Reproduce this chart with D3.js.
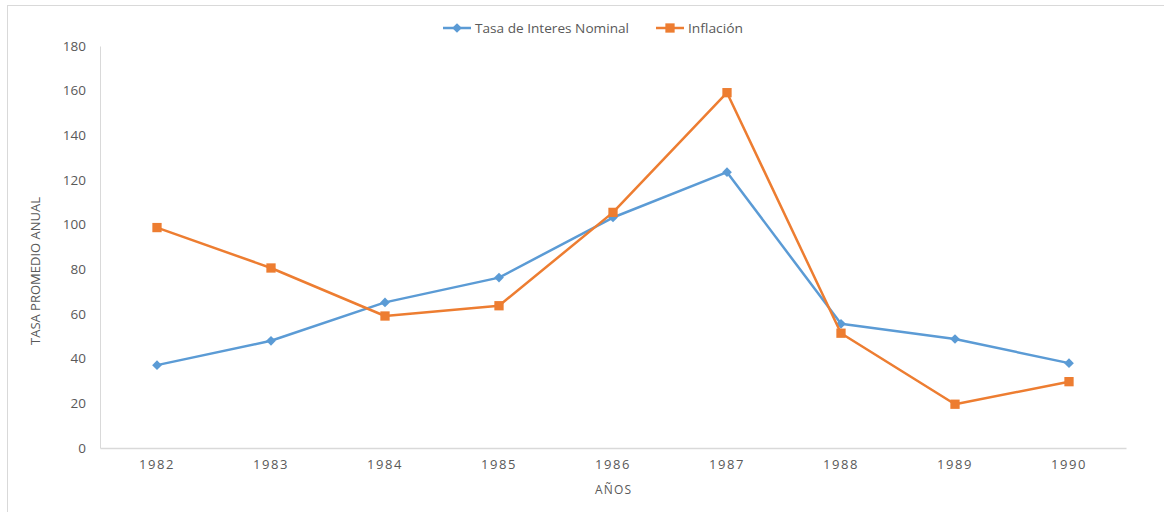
<!DOCTYPE html>
<html>
<head>
<meta charset="utf-8">
<script src="https://cdn.jsdelivr.net/npm/d3@7"></script>
<style>
  body { margin: 0; background: #fff; }
  svg text { font-family: "Open Sans", "Liberation Sans", sans-serif; fill: #595959; }
</style>
</head>
<body>
<svg id="chart"></svg>
<script>
// data
const years = ['1982', '1983', '1984', '1985', '1986', '1987', '1988', '1989', '1990'];
const nominal = [37.1, 48.0, 65.2, 76.3, 103.2, 123.5, 55.6, 48.8, 38.0];
const inflacion = [98.7, 80.6, 59.1, 63.7, 105.5, 159.1, 51.4, 19.6, 29.7];
const yTicks = [0, 20, 40, 60, 80, 100, 120, 140, 160, 180];

const config = {
    width: 1164,
    height: 512,
    margin: {top: 46, right: 38, bottom: 64, left: 100}
};

const svg = d3.select('#chart')
    .attr('width', config.width)
    .attr('height', config.height);

// outer frame (only top and left edges fall inside the view)
svg.append('rect')
    .attr('x', 7.5).attr('y', 5.5)
    .attr('width', 1300).attr('height', 700)
    .attr('fill', 'none')
    .attr('stroke', '#d9d9d9');

const innerW = config.width - config.margin.left - config.margin.right;
const innerH = config.height - config.margin.top - config.margin.bottom;

const chart = svg.append('g')
    .attr('transform', `translate(${config.margin.left},${config.margin.top})`);

const xScale = d3.scaleBand().domain(years).range([0, innerW]);
const yScale = d3.scaleLinear().domain([0, 180]).range([innerH, 0]);

// y axis
const yAxisG = chart.append('g')
    .call(d3.axisLeft(yScale).tickValues(yTicks).tickSize(0).tickPadding(14));
yAxisG.select('.domain').attr('stroke', '#d9d9d9');
yAxisG.selectAll('text').attr('font-size', 13.5).attr('fill', '#595959');

// x axis
const xAxisG = chart.append('g')
    .attr('transform', `translate(0,${innerH})`)
    .call(d3.axisBottom(xScale).tickSize(0).tickPadding(12));
xAxisG.select('.domain').attr('stroke', '#d9d9d9').attr('stroke-width', 1.5);
xAxisG.selectAll('text').attr('font-size', 13).attr('letter-spacing', '1.6px').attr('fill', '#595959');

// axis titles
svg.append('text')
    .attr('x', xScale('1986') + xScale.bandwidth() / 2 + config.margin.left)
    .attr('y', 494)
    .attr('text-anchor', 'middle')
    .attr('font-size', 12)
    .attr('textLength', 36)
    .text('AÑOS');

svg.append('text')
    .attr('transform', 'translate(40,271) rotate(-90)')
    .attr('text-anchor', 'middle')
    .attr('font-size', 12)
    .attr('textLength', 148)
    .attr('lengthAdjust', 'spacingAndGlyphs')
    .text('TASA PROMEDIO ANUAL');

const series = [
    {name: 'Tasa de Interes Nominal', values: nominal, color: '#5b9bd5', marker: 'diamond'},
    {name: 'Inflación', values: inflacion, color: '#ed7d31', marker: 'square'}
];

const xPos = i => xScale(years[i]) + xScale.bandwidth() / 2;

const line = d3.line()
    .x((d, i) => xPos(i))
    .y(d => yScale(d));

const markerPath = (type) => type === 'diamond'
    ? d3.symbol(d3.symbolDiamond2, 60)()
    : d3.symbol(d3.symbolSquare2, 110)();

series.forEach(s => {
    chart.append('path')
        .datum(s.values)
        .attr('fill', 'none')
        .attr('stroke', s.color)
        .attr('stroke-width', 2.5)
        .attr('stroke-linejoin', 'round')
        .attr('d', line);

    chart.selectAll(null)
        .data(s.values)
        .join('path')
        .attr('transform', (d, i) => `translate(${xPos(i)},${yScale(d)})`)
        .attr('d', markerPath(s.marker))
        .attr('fill', s.color);
});

// legend
const legendItems = [
    {s: series[0], x: 443, w: 154},
    {s: series[1], x: 656, w: 55}
];
const legend = svg.append('g').attr('transform', 'translate(0,28)');
legendItems.forEach(item => {
    const g = legend.append('g').attr('transform', `translate(${item.x},0)`);
    g.append('line')
        .attr('x1', 0).attr('x2', 28)
        .attr('stroke', item.s.color)
        .attr('stroke-width', 2.5);
    g.append('path')
        .attr('transform', 'translate(14,0)')
        .attr('d', markerPath(item.s.marker))
        .attr('fill', item.s.color);
    g.append('text')
        .attr('x', 32)
        .attr('dy', '0.35em')
        .attr('font-size', 13.5)
        .attr('textLength', item.w)
        .attr('lengthAdjust', 'spacingAndGlyphs')
        .text(item.s.name);
});
</script>
</body>
</html>
